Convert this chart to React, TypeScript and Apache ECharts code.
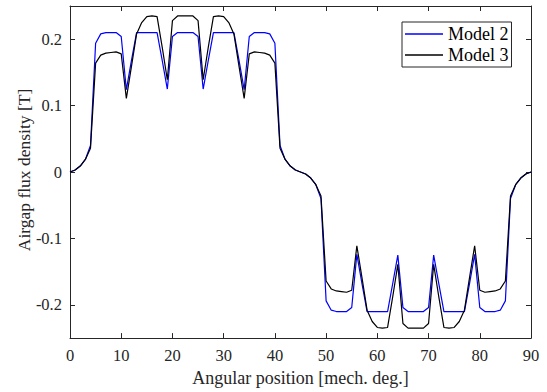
import React, { useEffect, useRef } from 'react';
import * as echarts from 'echarts';

const angles = [
  0, 1, 2, 3, 4, 5, 6, 7, 8, 9, 10, 11, 12, 13, 14, 15, 16, 17, 18, 19, 20, 21, 22,
  23, 24, 25, 26, 27, 28, 29, 30, 31, 32, 33, 34, 35, 36, 37, 38, 39, 40, 41, 42, 43, 44, 45,
  46, 47, 48, 49, 50, 51, 52, 53, 54, 55, 56, 57, 58, 59, 60, 61, 62, 63, 64, 65, 66, 67, 68,
  69, 70, 71, 72, 73, 74, 75, 76, 77, 78, 79, 80, 81, 82, 83, 84, 85, 86, 87, 88, 89, 90,
];

const model2 = [
  0, 0.003, 0.009, 0.019, 0.04, 0.194, 0.208, 0.21, 0.21, 0.21, 0.204, 0.124, 0.168, 0.21, 0.21,
  0.21, 0.21, 0.21, 0.168, 0.125, 0.204, 0.21, 0.21, 0.21, 0.21, 0.204, 0.125, 0.168, 0.21, 0.21,
  0.21, 0.21, 0.21, 0.168, 0.124, 0.204, 0.21, 0.21, 0.21, 0.208, 0.194, 0.04, 0.019, 0.009, 0.003, 0,
  -0.003, -0.009, -0.019, -0.04, -0.194, -0.208, -0.21, -0.21, -0.21, -0.204, -0.124, -0.168, -0.21,
  -0.21, -0.21, -0.21, -0.21, -0.168, -0.125, -0.204, -0.21, -0.21, -0.21, -0.21, -0.204, -0.125,
  -0.168, -0.21, -0.21, -0.21, -0.21, -0.21, -0.168, -0.124, -0.204, -0.21, -0.21, -0.21, -0.208,
  -0.194, -0.04, -0.019, -0.009, -0.003, 0,
];

const model3 = [
  0, 0.003, 0.009, 0.019, 0.036, 0.164, 0.176, 0.179, 0.18, 0.181, 0.178, 0.111, 0.159, 0.208, 0.225,
  0.234, 0.235, 0.234, 0.188, 0.139, 0.228, 0.235, 0.235, 0.235, 0.235, 0.228, 0.139, 0.188, 0.234,
  0.235, 0.234, 0.225, 0.208, 0.159, 0.111, 0.178, 0.181, 0.18, 0.179, 0.176, 0.164, 0.036, 0.019,
  0.009, 0.003, 0,
  -0.003, -0.009, -0.019, -0.036, -0.164, -0.176, -0.179, -0.18, -0.181, -0.178, -0.111, -0.159,
  -0.208, -0.225, -0.234, -0.235, -0.234, -0.188, -0.139, -0.228, -0.235, -0.235, -0.235, -0.235,
  -0.228, -0.139, -0.188, -0.234, -0.235, -0.234, -0.225, -0.208, -0.159, -0.111, -0.178, -0.181,
  -0.18, -0.179, -0.176, -0.164, -0.036, -0.019, -0.009, -0.003, 0,
];

const yTicks = [-0.2, -0.1, 0, 0.1, 0.2];
const seriesNames = ['Model 2', 'Model 3'];
const seriesColors = ['#0000ff', '#000000'];
const xTitle = 'Angular position [mech. deg.]';
const yTitle = 'Airgap flux density [T]';

export default function App() {
  const ref = useRef<HTMLDivElement>(null);
  useEffect(() => {
    const chart = echarts.init(ref.current as HTMLDivElement, null, { renderer: 'svg' });
    const font = 'Liberation Serif';
    const axisColor = '#262626';
    const axisLine = { show: true, onZero: false, lineStyle: { color: axisColor, width: 1 } };
    const tick = { show: true, inside: true, length: 5, lineStyle: { color: axisColor, width: 1 } };
    const label = { fontFamily: font, fontSize: 16.5, color: axisColor };
    const titleStyle = { fontFamily: font, fontSize: 18, color: axisColor };
    chart.setOption({
      animation: false,
      backgroundColor: '#ffffff',
      grid: { left: 70, right: 16, top: 6, bottom: 52 },
      graphic: [
        {
          type: 'text',
          x: 24,
          y: 170,
          rotation: Math.PI / 2,
          style: {
            text: yTitle,
            fontFamily: font,
            fontSize: 17.5,
            fill: axisColor,
            align: 'center',
            verticalAlign: 'middle',
          },
        },
      ],
      legend: {
        show: true,
        orient: 'vertical',
        left: 402,
        top: 22,
        padding: [3, 3, 3, 3],
        itemGap: 3,
        itemWidth: 38,
        itemHeight: 1.5,
        icon: 'rect',
        backgroundColor: '#ffffff',
        borderColor: axisColor,
        borderWidth: 1,
        borderRadius: 0,
        textStyle: { fontFamily: font, fontSize: 18, color: '#000', lineHeight: 18 },
        data: seriesNames,
      },
      xAxis: [
        {
          type: 'value',
          min: 0,
          max: 90,
          interval: 10,
          position: 'bottom',
          name: xTitle,
          nameLocation: 'middle',
          nameGap: 28,
          nameTextStyle: titleStyle,
          axisLine,
          axisTick: tick,
          axisLabel: { ...label, margin: 9 },
          splitLine: { show: false },
        },
        {
          type: 'value',
          min: 0,
          max: 90,
          interval: 10,
          position: 'top',
          axisLine,
          axisTick: tick,
          axisLabel: { show: false },
          splitLine: { show: false },
        },
      ],
      yAxis: [
        {
          type: 'value',
          min: -0.25,
          max: 0.25,
          position: 'left',
          axisLine,
          axisTick: { ...tick, customValues: yTicks },
          axisLabel: { ...label, margin: 8, customValues: yTicks, formatter: (v: number) => String(v) },
          splitLine: { show: false },
        },
        {
          type: 'value',
          min: -0.25,
          max: 0.25,
          position: 'right',
          axisLine,
          axisTick: { ...tick, customValues: yTicks },
          axisLabel: { show: false },
          splitLine: { show: false },
        },
      ],
      series: seriesNames.map((name, k) => ({
        name,
        type: 'line',
        data: angles.map((a, i) => [a, (k === 0 ? model2 : model3)[i]]),
        symbol: 'none',
        showSymbol: false,
        lineStyle: { color: seriesColors[k], width: 1.2 },
        itemStyle: { color: seriesColors[k] },
      })),
    });
    return () => chart.dispose();
  }, []);
  return (
    <div
      ref={ref}
      style={{ position: 'fixed', left: 0, top: 0, width: 547, height: 392, background: '#fff' }}
    />
  );
}
